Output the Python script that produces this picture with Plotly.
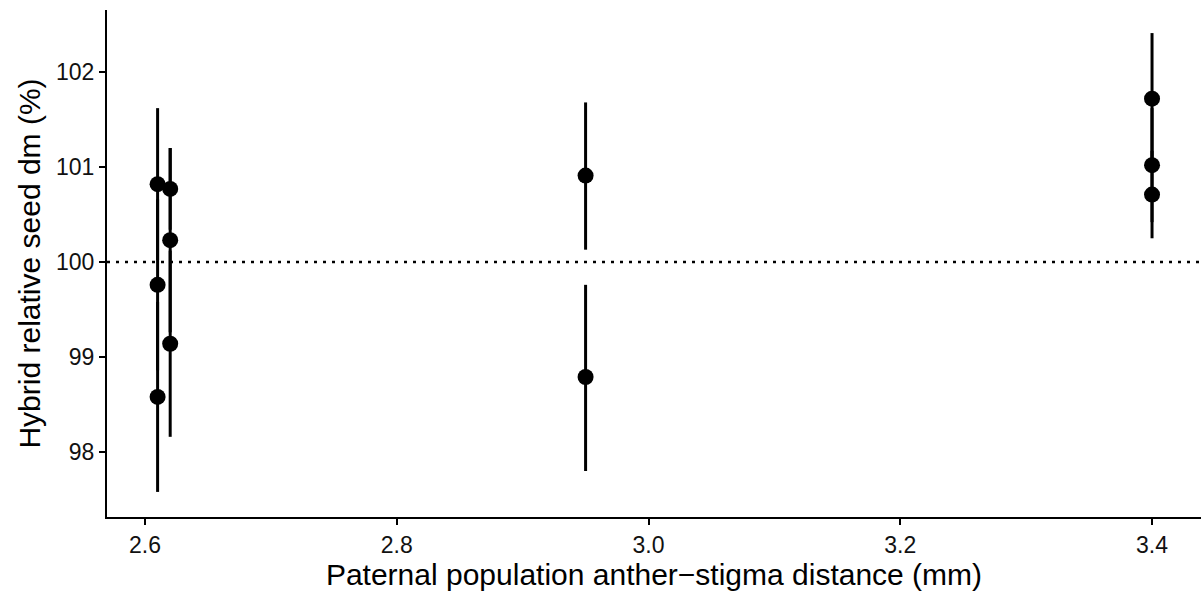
import plotly.graph_objects as go

x_vals = [2.61, 2.61, 2.61, 2.62, 2.62, 2.62, 2.95, 2.95, 3.40, 3.40, 3.40]
y_vals = [100.82, 99.76, 98.58, 100.77, 100.23, 99.14, 100.91, 98.79, 101.72, 101.02, 100.71]
err_up = [0.80, 0.90, 1.00, 0.43, 0.97, 0.98, 0.77, 0.97, 0.69, 0.60, 0.46]
err_dn = [0.80, 0.90, 1.00, 0.43, 0.97, 0.98, 0.78, 0.99, 0.69, 0.60, 0.46]
x_ticks = [2.6, 2.8, 3.0, 3.2, 3.4]
x_tick_labels = ["2.6", "2.8", "3.0", "3.2", "3.4"]
y_ticks = [98, 99, 100, 101, 102]
y_tick_labels = ["98", "99", "100", "101", "102"]
ref_value = 100

fig = go.Figure()
fig.add_trace(go.Scatter(
    x=x_vals, y=y_vals, mode="markers",
    marker=dict(color="black", size=16, line=dict(width=0)),
    error_y=dict(type="data", symmetric=False, array=err_up, arrayminus=err_dn,
                 color="black", thickness=3, width=0),
    showlegend=False,
))

fig.add_shape(type="line", xref="paper", x0=0, x1=1, yref="y", y0=ref_value, y1=ref_value,
              line=dict(color="black", width=2.5, dash="3px,6px"), layer="below")

font_family = "Liberation Sans, Arial, sans-serif"
fig.update_layout(
    width=1201, height=596,
    margin=dict(l=107, r=0, t=10, b=79),
    paper_bgcolor="white", plot_bgcolor="white",
    font=dict(family=font_family, color="black"),
    xaxis=dict(
        range=[2.5698, 3.4389], tickvals=x_ticks, ticktext=x_tick_labels,
        showgrid=False, zeroline=False, showline=True, linecolor="black", linewidth=2,
        ticks="outside", ticklen=6, tickwidth=2, tickcolor="black",
        tickfont=dict(size=23, color="#111"),
        title=dict(text="Paternal population anther\u2212stigma distance (mm)",
                   font=dict(size=30, color="black"), standoff=7),
    ),
    yaxis=dict(
        range=[97.316, 102.653], tickvals=y_ticks, ticktext=y_tick_labels,
        showgrid=False, zeroline=False, showline=True, linecolor="black", linewidth=2,
        ticks="outside", ticklen=6, tickwidth=2, tickcolor="black",
        tickfont=dict(size=23, color="#111"),
        title=dict(text="Hybrid relative seed dm (%)",
                   font=dict(size=30, color="black"), standoff=7),
    ),
)

fig.write_html("out.html")
